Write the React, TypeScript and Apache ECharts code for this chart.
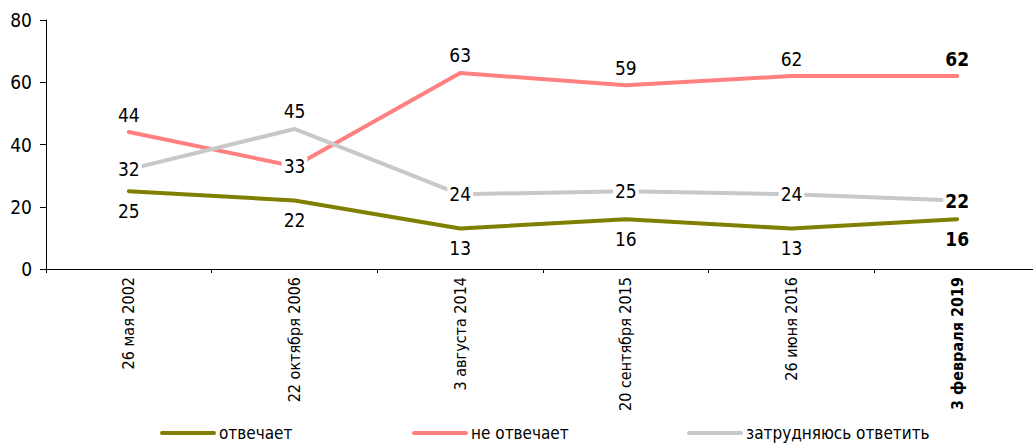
import React, { useEffect, useRef } from 'react';
import * as echarts from 'echarts';

const categories = [
  '26 мая 2002',
  '22 октября 2006',
  '3 августа 2014',
  '20 сентября 2015',
  '26 июня 2016',
  '3 февраля 2019',
];
const seriesNames = ['отвечает', 'не отвечает', 'затрудняюсь ответить'];
const answers = [25, 22, 13, 16, 13, 16];
const notAnswers = [44, 33, 63, 59, 62, 62];
const hardToSay = [32, 45, 24, 25, 24, 22];

const COLORS = ['#808000', '#FF8080', '#C8C8C8'];
const VALUE_FONT = '"DejaVu Sans Condensed", "DejaVu Sans", sans-serif';
const NARROW_FONT = '"Liberation Sans Narrow", "DejaVu Sans Condensed", sans-serif';

// label placement per point: 'top' | 'bottom' | 'inside'
const answersPos = ['bottom', 'bottom', 'bottom', 'bottom', 'bottom', 'bottom'];
const notAnswersPos = ['top', 'inside', 'top', 'top', 'top', 'top'];
const hardToSayPos = ['inside', 'top', 'inside', 'inside', 'inside', 'inside'];

function buildData(values: number[], positions: string[]) {
  const last = values.length - 1;
  return values.map((v, i) => {
    const pos = positions[i];
    const label: any = {
      position: pos,
      distance: pos === 'bottom' ? 9 : 7,
      fontWeight: i === last ? 'bold' : 'normal',
    };
    if (pos === 'inside') {
      label.backgroundColor = '#ffffff';
      label.padding = [0, 2, 0, 2];
    }
    return { value: v, label };
  });
}

const CAPSULE = 'path://M2,0H54A2,2,0,0,1,54,4H2A2,2,0,0,1,2,0Z';

export default function App() {
  const ref = useRef<HTMLDivElement>(null);
  useEffect(() => {
    if (!ref.current) return;
    const chart = echarts.init(ref.current, undefined, { renderer: 'svg' });
    const lastIdx = categories.length - 1;
    const legendLefts = [160, 412, 687];
    const mkSeries = (name: string, values: number[], pos: string[], color: string) => ({
      name,
      type: 'line',
      data: buildData(values, pos),
      symbol: 'circle',
      symbolSize: 2,
      itemStyle: { color },
      lineStyle: { color, width: 4, cap: 'round', join: 'round' },
      label: {
        show: true,
        color: '#000',
        fontFamily: VALUE_FONT,
        fontSize: 19,
      },
      emphasis: { disabled: true },
    });
    chart.setOption({
      animation: false,
      backgroundColor: '#ffffff',
      grid: { left: 46, right: 0, top: 20, height: 249, containLabel: false },
      xAxis: {
        type: 'category',
        boundaryGap: true,
        data: categories.map((c, i) =>
          i === lastIdx ? { value: c, textStyle: { fontWeight: 'bold' } } : c
        ),
        axisLine: { show: true, lineStyle: { color: '#000', width: 1 } },
        axisTick: { show: true, length: 4, lineStyle: { color: '#000' } },
        axisLabel: {
          rotate: 90,
          interval: 0,
          margin: 8,
          color: '#000',
          fontFamily: NARROW_FONT,
          fontSize: 16,
        },
        splitLine: { show: false },
      },
      yAxis: {
        type: 'value',
        min: 0,
        max: 80,
        interval: 20,
        axisLine: { show: true, lineStyle: { color: '#000', width: 1 } },
        axisTick: { show: true, length: 6, lineStyle: { color: '#000' } },
        axisLabel: {
          margin: 14,
          color: '#000',
          fontFamily: VALUE_FONT,
          fontSize: 19,
        },
        splitLine: { show: false },
      },
      legend: seriesNames.map((n, i) => ({
        data: [n],
        left: legendLefts[i],
        top: 423,
        padding: 0,
        icon: CAPSULE,
        itemWidth: 56,
        itemHeight: 4,
        selectedMode: false,
        textStyle: {
          color: '#000',
          fontFamily: VALUE_FONT,
          fontSize: 17,
          lineHeight: 20,
          padding: [0, 0, 0, -2],
        },
      })),
      series: [
        mkSeries(seriesNames[0], answers, answersPos, COLORS[0]),
        mkSeries(seriesNames[1], notAnswers, notAnswersPos, COLORS[1]),
        mkSeries(seriesNames[2], hardToSay, hardToSayPos, COLORS[2]),
      ],
    });
    return () => chart.dispose();
  }, []);
  return (
    <div style={{ position: 'fixed', left: 0, top: 0, width: 1033, height: 443, overflow: 'hidden', background: '#fff' }}>
      <div ref={ref} style={{ width: 1040, height: 443 }} />
    </div>
  );
}
